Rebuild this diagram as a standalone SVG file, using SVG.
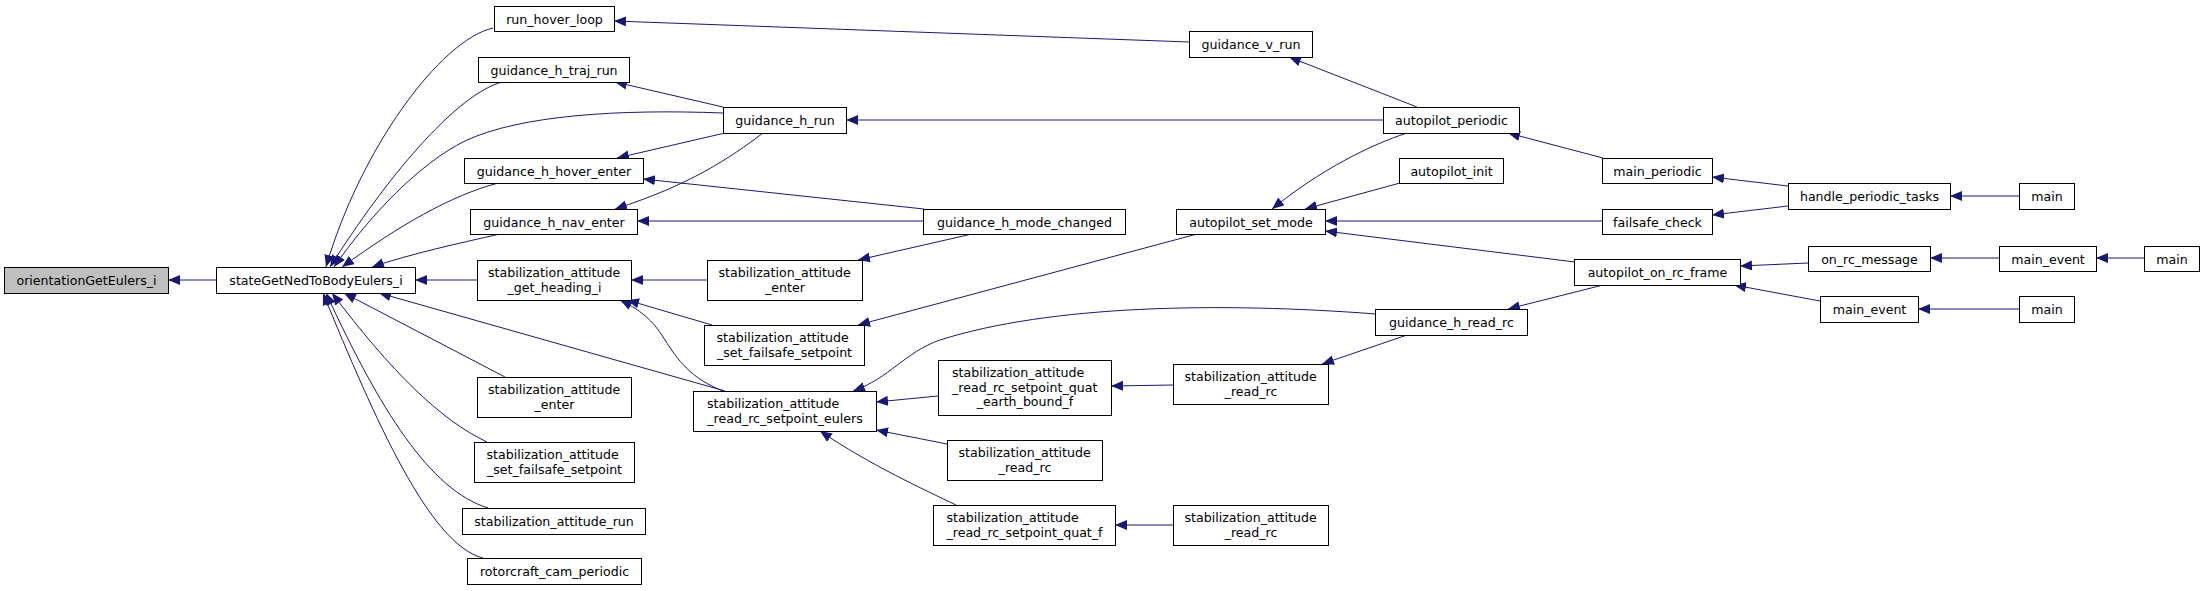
<svg xmlns="http://www.w3.org/2000/svg" width="2204" height="591" viewBox="0 0 2204 591">
<style>
.node rect{fill:#fff;stroke:#000;stroke-width:1}
.root rect{fill:#bfbfbf}
text{font-family:"DejaVu Sans",sans-serif;font-size:12.6px;fill:#000}
.c{text-anchor:middle}
.e path{fill:none;stroke:#191970;stroke-width:1;marker-end:url(#ah)}
</style>
<defs>
<marker id="ah" markerUnits="userSpaceOnUse" markerWidth="13" markerHeight="11" refX="12" refY="5" orient="auto"><path d="M0,0 L12,5 L0,10 z" fill="#191970"/></marker>
</defs>
<rect width="2204" height="591" fill="#fff"/>
<g id="edges" class="e">
<path d="M216,280 L168,280"/>
<path d="M493,28 C440,40 360,150 326,267"/>
<path d="M502,82 C455,95 385,180 330,267"/>
<path d="M723,113 C620,109 520,115 465,141 C420,163 370,215 334,267"/>
<path d="M498,183 C450,196 400,225 342,267"/>
<path d="M500,234 C460,243 410,254 372,267"/>
<path d="M477,280 L415,280"/>
<path d="M725,391 L379,293"/>
<path d="M505,377 L344,293"/>
<path d="M487,442 C440,420 390,370 332,293"/>
<path d="M488,508 C430,490 380,410 326,293"/>
<path d="M483,558 C430,545 375,420 323,293"/>
<path d="M1189,42 L614,21"/>
<path d="M723,107 L615,82"/>
<path d="M725,133 L617,158"/>
<path d="M763,133 C730,158 690,185 615,209"/>
<path d="M924,209 L643,179"/>
<path d="M924,221 L637,221"/>
<path d="M707,280 L631,280"/>
<path d="M712,325 L627,300"/>
<path d="M723,391 C690,378 678,360 665,340 C655,324 645,312 620,300"/>
<path d="M972,234 L858,260"/>
<path d="M1197,234 L858,325"/>
<path d="M1376,314 C1220,302 1050,305 940,340 C905,352 890,378 853,391"/>
<path d="M938,396 L876,402"/>
<path d="M947,444 L876,430"/>
<path d="M956,505 C925,490 870,465 820,431"/>
<path d="M1173,385 L1111,386"/>
<path d="M1173,525 L1115,525"/>
<path d="M1407,335 L1322,364"/>
<path d="M1417,107 L1289,57"/>
<path d="M1383,120 L846,120"/>
<path d="M1407,133 C1370,145 1320,170 1272,209"/>
<path d="M1400,183 L1305,209"/>
<path d="M1602,221 L1325,221"/>
<path d="M1575,262 L1325,231"/>
<path d="M1603,285 L1508,309"/>
<path d="M1603,158 L1508,133"/>
<path d="M1788,186 L1712,177"/>
<path d="M1788,206 L1712,215"/>
<path d="M2019,196 L1950,196"/>
<path d="M1808,263 L1740,266"/>
<path d="M1820,301 L1734,285"/>
<path d="M1999,258 L1930,258"/>
<path d="M2144,258 L2096,258"/>
<path d="M2019,309 L1918,309"/>
</g>
<g id="n_orient" class="node root"><rect x="4.5" y="267.5" width="164" height="26"/><text class="c" x="86.5" y="285">orientationGetEulers_i</text></g>
<g id="n_state" class="node"><rect x="216.5" y="267.5" width="199" height="26"/><text class="c" x="316" y="285">stateGetNedToBodyEulers_i</text></g>
<g id="n_rhl" class="node"><rect x="494.5" y="6.5" width="120" height="25"/><text class="c" x="554.5" y="23.5">run_hover_loop</text></g>
<g id="n_htraj" class="node"><rect x="478.5" y="57.5" width="151" height="25"/><text class="c" x="554" y="74.5">guidance_h_traj_run</text></g>
<g id="n_hover" class="node"><rect x="464.5" y="158.5" width="179" height="25"/><text class="c" x="554" y="175.5">guidance_h_hover_enter</text></g>
<g id="n_nav" class="node"><rect x="470.5" y="209.5" width="167" height="25"/><text class="c" x="554" y="226.5">guidance_h_nav_enter</text></g>
<g id="n_heading" class="node"><rect x="477.5" y="260.5" width="154" height="40"/><text x="488" y="276.5">stabilization_attitude</text><text class="c" x="554.5" y="291.5">_get_heading_i</text></g>
<g id="n_senter1" class="node"><rect x="477.5" y="377.5" width="154" height="40"/><text x="488" y="393.5">stabilization_attitude</text><text class="c" x="554.5" y="408.5">_enter</text></g>
<g id="n_sfail1" class="node"><rect x="474.5" y="442.5" width="160" height="40"/><text x="486.5" y="458.5">stabilization_attitude</text><text class="c" x="554.5" y="473.5">_set_failsafe_setpoint</text></g>
<g id="n_srun" class="node"><rect x="462.5" y="508.5" width="183" height="26"/><text class="c" x="554" y="526">stabilization_attitude_run</text></g>
<g id="n_cam" class="node"><rect x="467.5" y="558.5" width="174" height="26"/><text class="c" x="554.5" y="576">rotorcraft_cam_periodic</text></g>
<g id="n_hrun" class="node"><rect x="723.5" y="107.5" width="123" height="26"/><text class="c" x="785" y="125">guidance_h_run</text></g>
<g id="n_senter2" class="node"><rect x="707.5" y="260.5" width="155" height="40"/><text x="718.5" y="276.5">stabilization_attitude</text><text class="c" x="785" y="291.5">_enter</text></g>
<g id="n_sfail2" class="node"><rect x="704.5" y="325.5" width="160" height="40"/><text x="716.5" y="341.5">stabilization_attitude</text><text class="c" x="784.5" y="356.5">_set_failsafe_setpoint</text></g>
<g id="n_euler" class="node"><rect x="693.5" y="391.5" width="183" height="40"/><text x="707" y="407.5">stabilization_attitude</text><text class="c" x="785" y="422.5">_read_rc_setpoint_eulers</text></g>
<g id="n_vrun" class="node"><rect x="1189.5" y="31.5" width="123" height="26"/><text class="c" x="1251" y="49">guidance_v_run</text></g>
<g id="n_hmode" class="node"><rect x="923.5" y="209.5" width="202" height="25"/><text class="c" x="1024.5" y="226.5">guidance_h_mode_changed</text></g>
<g id="n_quatE" class="node"><rect x="938.5" y="360.5" width="173" height="55"/><text x="952" y="377">stabilization_attitude</text><text x="952" y="391.5">_read_rc_setpoint_quat</text><text class="c" x="1025" y="406">_earth_bound_f</text></g>
<g id="n_src1" class="node"><rect x="947.5" y="440.5" width="155" height="40"/><text x="958.5" y="456.5">stabilization_attitude</text><text class="c" x="1025" y="471.5">_read_rc</text></g>
<g id="n_quatF" class="node"><rect x="933.5" y="505.5" width="182" height="40"/><text x="946.5" y="521.5">stabilization_attitude</text><text class="c" x="1024.5" y="536.5">_read_rc_setpoint_quat_f</text></g>
<g id="n_setmode" class="node"><rect x="1176.5" y="209.5" width="149" height="25"/><text class="c" x="1251" y="226.5">autopilot_set_mode</text></g>
<g id="n_src2" class="node"><rect x="1173.5" y="364.5" width="155" height="40"/><text x="1184.5" y="380.5">stabilization_attitude</text><text class="c" x="1251" y="395.5">_read_rc</text></g>
<g id="n_src3" class="node"><rect x="1173.5" y="505.5" width="155" height="40"/><text x="1184.5" y="521.5">stabilization_attitude</text><text class="c" x="1251" y="536.5">_read_rc</text></g>
<g id="n_apper" class="node"><rect x="1383.5" y="107.5" width="136" height="26"/><text class="c" x="1451.5" y="125">autopilot_periodic</text></g>
<g id="n_apinit" class="node"><rect x="1399.5" y="158.5" width="104" height="25"/><text class="c" x="1451.5" y="175.5">autopilot_init</text></g>
<g id="n_hreadrc" class="node"><rect x="1375.5" y="309.5" width="152" height="26"/><text class="c" x="1451.5" y="327">guidance_h_read_rc</text></g>
<g id="n_mainper" class="node"><rect x="1602.5" y="158.5" width="110" height="25"/><text class="c" x="1657.5" y="175.5">main_periodic</text></g>
<g id="n_fail" class="node"><rect x="1602.5" y="209.5" width="110" height="25"/><text class="c" x="1657.5" y="226.5">failsafe_check</text></g>
<g id="n_onrcf" class="node"><rect x="1574.5" y="259.5" width="166" height="26"/><text class="c" x="1657.5" y="277">autopilot_on_rc_frame</text></g>
<g id="n_hpt" class="node"><rect x="1788.5" y="183.5" width="162" height="26"/><text class="c" x="1869.5" y="201">handle_periodic_tasks</text></g>
<g id="n_onrcm" class="node"><rect x="1808.5" y="246.5" width="122" height="25"/><text class="c" x="1869.5" y="263.5">on_rc_message</text></g>
<g id="n_mev2" class="node"><rect x="1820.5" y="296.5" width="98" height="26"/><text class="c" x="1869.5" y="314">main_event</text></g>
<g id="n_main1" class="node"><rect x="2019.5" y="183.5" width="55" height="26"/><text class="c" x="2047" y="201">main</text></g>
<g id="n_mev1" class="node"><rect x="1999.5" y="246.5" width="97" height="25"/><text class="c" x="2048" y="263.5">main_event</text></g>
<g id="n_main3" class="node"><rect x="2019.5" y="296.5" width="55" height="26"/><text class="c" x="2047" y="314">main</text></g>
<g id="n_main2" class="node"><rect x="2144.5" y="246.5" width="55" height="25"/><text class="c" x="2172" y="263.5">main</text></g>
</svg>
